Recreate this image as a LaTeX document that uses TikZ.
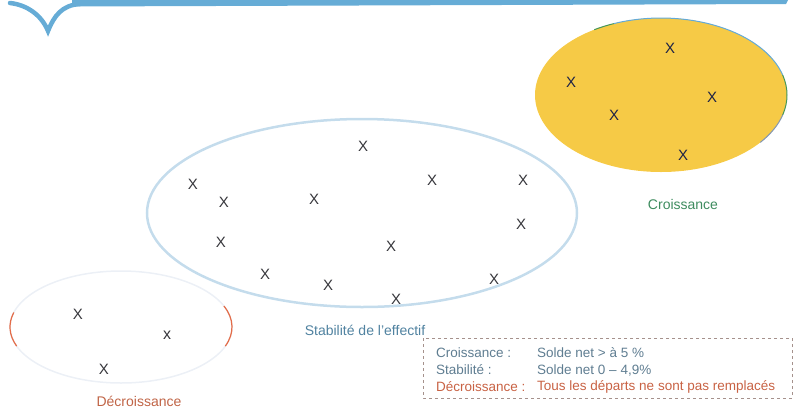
\documentclass[tikz,border=0pt]{standalone}
\usepackage{fontspec}
\setmainfont{Liberation Sans}
\usetikzlibrary{shapes.geometric}
\definecolor{banner}{RGB}{102,172,214}
\definecolor{gold}{RGB}{246,202,70}
\definecolor{goldedge}{RGB}{100,170,215}
\definecolor{goldgreen}{RGB}{70,150,90}
\definecolor{goldgray}{RGB}{130,150,180}
\definecolor{stabedge}{RGB}{196,220,236}
\definecolor{decedge}{RGB}{228,108,72}
\definecolor{decfaint}{RGB}{236,240,246}
\definecolor{xcol}{RGB}{55,55,60}
\definecolor{xnavy}{RGB}{30,35,70}
\definecolor{lblgreen}{RGB}{62,140,95}
\definecolor{lblblue}{RGB}{80,130,160}
\definecolor{lblbrown}{RGB}{192,100,70}
\definecolor{leggray}{RGB}{95,125,145}
\definecolor{legorange}{RGB}{200,98,68}
\definecolor{legbox}{RGB}{165,145,140}
\tikzset{
  xm/.style={inner sep=0pt, text=xcol, font=\fontsize{15}{15}\selectfont},
  xmy/.style={xm, text=xnavy},
  grplabel/.style={inner sep=0pt, font=\fontsize{14}{14}\selectfont},
  legtext/.style={inner sep=0pt, anchor=west, font=\fontsize{13.5}{14}\selectfont},
}
\begin{document}
\begin{tikzpicture}[x=1pt,y=-1pt]
\useasboundingbox (0,0) rectangle (793,408);
% top banner
\fill[banner] (72,0) -- (788,0) -- (786,4) -- (72,6.5) -- cycle;
\draw[banner, line width=4.5pt, line cap=round] (10,3) .. controls (28,5) and (42,16) .. (48,31)
  .. controls (54,16) and (62,5) .. (80,4);
% croissance ellipse
\node[ellipse, fill=gold, minimum width=252, minimum height=154, inner sep=0pt] (ecroi) at (661,95) {};
\draw[goldgreen, line width=1pt] (661,95) ++(-122:126 and 77) arc[start angle=-122, end angle=-112, x radius=126, y radius=77];
\draw[goldedge, line width=1pt] (661,95) ++(-112:126 and 77) arc[start angle=-112, end angle=-15, x radius=126, y radius=77];
\draw[goldgreen, line width=1pt] (661,95) ++(-15:126 and 77) arc[start angle=-15, end angle=15, x radius=126, y radius=77];
\draw[goldgray, line width=1pt] (661,95) ++(15:126 and 77) arc[start angle=15, end angle=38, x radius=126, y radius=77];
% stabilite ellipse
\node[ellipse, draw=stabedge, line width=2.5pt, minimum width=430, minimum height=188, inner sep=0pt] (estab) at (362,213) {};
% decroissance ellipse
\node[ellipse, draw=decfaint, line width=1.5pt, minimum width=222, minimum height=112, inner sep=0pt] (edec) at (121,327) {};
\draw[decedge, line width=1.2pt] (121,327) ++(160:111 and 56) arc[start angle=160, end angle=195, x radius=111, y radius=56];
\draw[decedge, line width=1.2pt] (121,327) ++(-22:111 and 56) arc[start angle=-22, end angle=20, x radius=111, y radius=56];
% marks croissance
\node[xmy] (c1) at (670,48) {X};
\node[xmy] (c2) at (571,82) {X};
\node[xmy] (c3) at (712,97) {X};
\node[xmy] (c4) at (614,115) {X};
\node[xmy] (c5) at (683,155) {X};
% marks stabilite
\node[xm] (s1) at (363,146) {X};
\node[xm] (s2) at (193,184) {X};
\node[xm] (s3) at (224,202) {X};
\node[xm] (s4) at (314,199) {X};
\node[xm] (s5) at (432,180) {X};
\node[xm] (s6) at (523,180) {X};
\node[xm] (s7) at (521,224) {X};
\node[xm] (s8) at (221,242) {X};
\node[xm] (s9) at (391,246) {X};
\node[xm] (s10) at (265,274) {X};
\node[xm] (s11) at (328,285) {X};
\node[xm] (s12) at (396,299) {X};
\node[xm] (s13) at (494,279) {X};
% marks decroissance
\node[xm] (d1) at (78,314) {X};
\node[xm, font=\fontsize{16}{16}\selectfont] (d2) at (167,335) {x};
\node[xm] (d3) at (104,369) {X};
% labels
\node[grplabel, text=lblgreen] (lcroi) at (683,204) {Croissance};
\node[grplabel, text=lblblue] (lstab) at (365,330) {Stabilité de l'effectif};
\node[grplabel, text=lblbrown] (ldec) at (139,401) {Décroissance};
% legend
\draw[legbox, dashed, line width=0.8pt] (423,338) rectangle (792,398);
\node[legtext, text=leggray] (k1) at (436,353) {Croissance :};
\node[legtext, text=leggray] (v1) at (537,353) {Solde net > à 5 \%};
\node[legtext, text=leggray] (k2) at (436,370) {Stabilité :};
\node[legtext, text=leggray] (v2) at (537,370) {Solde net 0 – 4,9\%};
\node[legtext, text=legorange] (k3) at (436,387) {Décroissance :};
\node[legtext, text=legorange] (v3) at (537,387) {Tous les départs ne sont pas remplacés};
\end{tikzpicture}
\end{document}
